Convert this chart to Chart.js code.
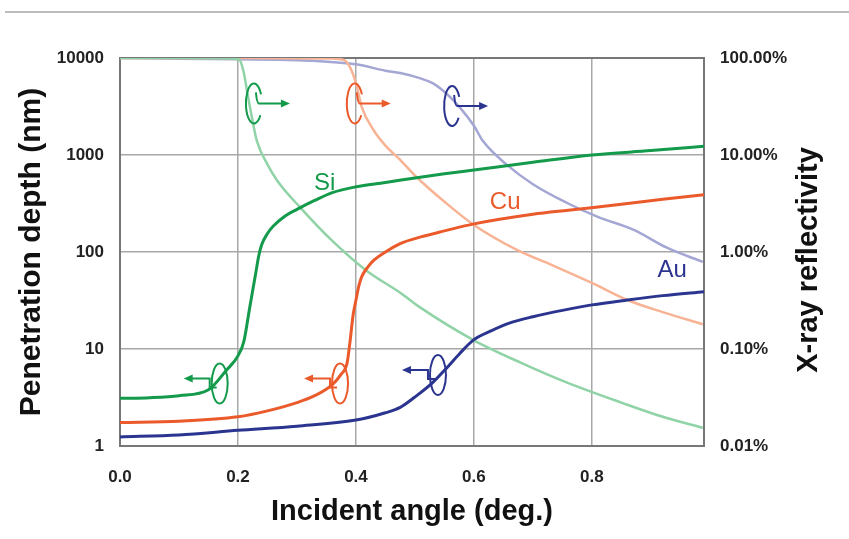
<!DOCTYPE html>
<html>
<head>
<meta charset="utf-8">
<script src="https://cdn.jsdelivr.net/npm/chart.js@4"></script>
<style>
  html, body { margin: 0; padding: 0; background: #fff; }
  #wrap { width: 849px; height: 539px; position: relative; }
</style>
</head>
<body>
<div id="wrap"><canvas id="chart"></canvas></div>
<script>
// Penetration depth (nm), left axis
var siAngle = [0, 0.05, 0.10, 0.15, 0.18, 0.20, 0.21, 0.22, 0.23, 0.235, 0.24, 0.25, 0.26, 0.28, 0.30, 0.33, 0.36, 0.40, 0.45, 0.50, 0.55, 0.60, 0.70, 0.80, 0.90, 0.99];
var siDepth = [3.1, 3.15, 3.3, 3.8, 6.0, 8.5, 12, 27, 60, 90, 118, 155, 185, 235, 275, 340, 410, 470, 520, 580, 640, 700, 840, 1000, 1110, 1230];

var cuAngle = [0, 0.10, 0.20, 0.25, 0.30, 0.33, 0.36, 0.375, 0.385, 0.39, 0.395, 0.40, 0.405, 0.41, 0.42, 0.43, 0.45, 0.475, 0.51, 0.55, 0.60, 0.70, 0.76, 0.85, 0.92, 0.99];
var cuDepth = [1.75, 1.8, 2.0, 2.3, 2.8, 3.3, 4.3, 5.5, 7.2, 12, 22, 32, 45, 56, 70, 82, 100, 122, 143, 165, 195, 245, 270, 310, 350, 390];

var auAngle = [0, 0.10, 0.20, 0.30, 0.40, 0.45, 0.475, 0.50, 0.53, 0.555, 0.576, 0.60, 0.63, 0.66, 0.70, 0.75, 0.80, 0.86, 0.92, 0.99];
var auDepth = [1.24, 1.3, 1.45, 1.6, 1.85, 2.2, 2.5, 3.2, 4.5, 6.5, 9, 12.5, 15.5, 18.5, 21.5, 25, 28.5, 32, 35.5, 39];

// X-ray reflectivity (%), right axis
var siReflAngle = [0, 0.10, 0.19, 0.203, 0.21, 0.215, 0.225, 0.232, 0.25, 0.266, 0.305, 0.36, 0.418, 0.475, 0.508, 0.60, 0.68, 0.758, 0.85, 0.92, 0.988];
var siRefl = [100, 100, 99, 95, 70, 47, 22, 14, 8, 5.5, 2.9, 1.3, 0.64, 0.38, 0.27, 0.123, 0.072, 0.045, 0.028, 0.02, 0.0154];

var cuReflAngle = [0, 0.20, 0.36, 0.38, 0.39, 0.40, 0.41, 0.43, 0.45, 0.475, 0.503, 0.55, 0.60, 0.673, 0.74, 0.80, 0.86, 0.92, 0.988];
var cuRefl = [100, 100, 99, 95, 80, 55, 31, 18, 12.5, 8.9, 5.9, 3.3, 1.9, 1.05, 0.7, 0.48, 0.32, 0.24, 0.18];

var auReflAngle = [0, 0.10, 0.20, 0.30, 0.40, 0.45, 0.475, 0.508, 0.53, 0.555, 0.576, 0.60, 0.615, 0.656, 0.70, 0.758, 0.81, 0.87, 0.928, 0.988];
var auRefl = [100, 98, 97, 95, 86, 74, 70, 62, 55, 42, 31, 20, 14, 7.9, 5, 3.2, 2.3, 1.7, 1.1, 0.79];

// ticks
var xTicks = [0, 0.2, 0.4, 0.6, 0.8];
var depthTicks = [1, 10, 100, 1000, 10000];
var reflTicks = [0.01, 0.1, 1, 10, 100];
var reflTickLabels = ['0.01%', '0.10%', '1.00%', '10.00%', '100.00%'];

var FONT = '"Liberation Sans", Arial, sans-serif';

function pairs(xs, ys) {
    return xs.map(function (x, i) { return { x: x, y: ys[i] }; });
}

// Si / Cu / Au labels and the loop arrows pointing to each axis
var labels = [
    { text: 'Si', angle: 0.347, depth: 514, color: '#139a4b' },
    { text: 'Cu', angle: 0.653, depth: 327, color: '#ea5a2b' },
    { text: 'Au', angle: 0.936, depth: 65, color: '#2b3590' }
];
var loops = [
    { angle: 0.227, depth: 3400, dir: 1, color: '#139a4b' },
    { angle: 0.398, depth: 3400, dir: 1, color: '#ea5a2b' },
    { angle: 0.563, depth: 3200, dir: 1, color: '#2b3590' },
    { angle: 0.169, depth: 4.4, dir: -1, color: '#139a4b' },
    { angle: 0.373, depth: 4.4, dir: -1, color: '#ea5a2b' },
    { angle: 0.539, depth: 5.4, dir: -1, color: '#2b3590' }
];

var extras = {
    id: 'extras',
    beforeDraw: function (chart) {
        var c = chart.ctx;
        c.save();
        c.strokeStyle = '#bdbdbd';
        c.lineWidth = 2;
        c.beginPath();
        c.moveTo(5, 12);
        c.lineTo(chart.width, 12);
        c.stroke();
        c.restore();
    },
    afterDatasetsDraw: function (chart) {
        var c = chart.ctx, xs = chart.scales.x, ys = chart.scales.y;
        c.save();
        labels.forEach(function (l) {
            c.fillStyle = l.color;
            c.font = '24px ' + FONT;
            c.textAlign = 'center';
            c.textBaseline = 'middle';
            c.fillText(l.text, xs.getPixelForValue(l.angle), ys.getPixelForValue(l.depth));
        });
        loops.forEach(function (g) {
            var cx = xs.getPixelForValue(g.angle), cy = ys.getPixelForValue(g.depth);
            var rx = 8, ry = 20, d = g.dir;
            c.strokeStyle = g.color;
            c.fillStyle = g.color;
            c.lineWidth = 2;
            c.beginPath();
            if (d > 0) {
                c.ellipse(cx, cy, rx, ry, 0, 0.2 * Math.PI, 1.85 * Math.PI);
            } else {
                c.ellipse(cx, cy, rx, ry, 0, 0, 2 * Math.PI);
            }
            c.stroke();
            var tipX = cx + d * 36, y0 = cy;
            c.beginPath();
            if (d > 0) {
                c.moveTo(cx + 2, cy - ry * 0.55);
                c.quadraticCurveTo(cx + 3, cy, cx + 5, cy);
                c.lineTo(tipX - 6, cy);
            } else {
                c.moveTo(cx - 3, cy + 4);
                c.lineTo(cx - 10, cy + 4);
                c.lineTo(cx - 10, cy - 5);
                c.lineTo(tipX + 6, cy - 5);
                y0 = cy - 5;
            }
            c.stroke();
            c.beginPath();
            c.moveTo(tipX, y0);
            c.lineTo(tipX - d * 9, y0 - 4);
            c.lineTo(tipX - d * 9, y0 + 4);
            c.closePath();
            c.fill();
        });
        // right axis title, reading bottom to top
        c.fillStyle = '#111';
        c.font = 'bold 29px ' + FONT;
        c.textAlign = 'center';
        c.textBaseline = 'middle';
        c.translate(chart.width - 40, (chart.chartArea.top + chart.chartArea.bottom) / 2 + 8);
        c.rotate(-Math.PI / 2);
        c.fillText('X-ray reflectivity', 0, 0);
        c.restore();
    }
};

var tickFont = { family: FONT, size: 17, weight: 'bold' };

new Chart(document.getElementById('chart'), {
    type: 'line',
    data: {
        datasets: [
            { label: 'Si depth', data: pairs(siAngle, siDepth), borderColor: '#139a4b', borderWidth: 3, yAxisID: 'y', order: 0 },
            { label: 'Cu depth', data: pairs(cuAngle, cuDepth), borderColor: '#ea5a2b', borderWidth: 3, yAxisID: 'y', order: 0 },
            { label: 'Au depth', data: pairs(auAngle, auDepth), borderColor: '#2b3590', borderWidth: 3, yAxisID: 'y', order: 0 },
            { label: 'Si reflectivity', data: pairs(siReflAngle, siRefl), borderColor: '#8fd3a6', borderWidth: 2.5, yAxisID: 'y2', order: 1 },
            { label: 'Cu reflectivity', data: pairs(cuReflAngle, cuRefl), borderColor: '#f7b394', borderWidth: 2.5, yAxisID: 'y2', order: 1 },
            { label: 'Au reflectivity', data: pairs(auReflAngle, auRefl), borderColor: '#a4a6d4', borderWidth: 2.5, yAxisID: 'y2', order: 1 }
        ]
    },
    options: {
        responsive: true,
        maintainAspectRatio: false,
        animation: false,
        layout: { padding: { top: 58, left: 0, right: 0, bottom: 0 } },
        elements: {
            point: { radius: 0 },
            line: { cubicInterpolationMode: 'monotone', fill: false }
        },
        plugins: { legend: { display: false }, tooltip: { enabled: false } },
        scales: {
            x: {
                type: 'linear',
                min: 0,
                max: 0.99,
                afterBuildTicks: function (s) { s.ticks = xTicks.map(function (v) { return { value: v }; }); },
                afterFit: function (s) { s.height = 93; },
                ticks: {
                    callback: function (v) { return v.toFixed(1); },
                    font: tickFont, color: '#222', padding: 21, maxRotation: 0, autoSkip: false
                },
                grid: { color: '#a8a8a8', lineWidth: 1.5, drawTicks: false },
                border: { color: '#777', width: 2 },
                title: {
                    display: true, text: 'Incident angle (deg.)', color: '#111',
                    font: { family: FONT, size: 29, weight: 'bold' }, padding: { top: 7, bottom: 10 }
                }
            },
            y: {
                type: 'logarithmic',
                position: 'left',
                min: 1,
                max: 10000,
                afterBuildTicks: function (s) { s.ticks = depthTicks.map(function (v) { return { value: v }; }); },
                afterFit: function (s) { s.width = 120; },
                ticks: {
                    callback: function (v) { return String(v); },
                    font: tickFont, color: '#222', padding: 16, autoSkip: false
                },
                grid: {
                    color: function (ctx) { return ctx.tick && ctx.tick.value === 10000 ? '#777' : '#a8a8a8'; },
                    lineWidth: function (ctx) { return ctx.tick && ctx.tick.value === 10000 ? 2 : 1.5; },
                    drawTicks: false
                },
                border: { color: '#777', width: 2 },
                title: {
                    display: true, text: 'Penetration depth (nm)', color: '#111',
                    font: { family: FONT, size: 30, weight: 'bold' }, padding: { top: 14, bottom: 0 }
                }
            },
            y2: {
                type: 'logarithmic',
                position: 'right',
                min: 0.01,
                max: 100,
                afterBuildTicks: function (s) { s.ticks = reflTicks.map(function (v) { return { value: v }; }); },
                afterFit: function (s) { s.width = 145; },
                ticks: {
                    callback: function (v, i) { return reflTickLabels[i]; },
                    font: tickFont, color: '#222', padding: 16, autoSkip: false
                },
                grid: { display: false, drawTicks: false },
                border: { color: '#777', width: 2 }
            }
        }
    },
    plugins: [extras]
});
</script>
</body>
</html>
